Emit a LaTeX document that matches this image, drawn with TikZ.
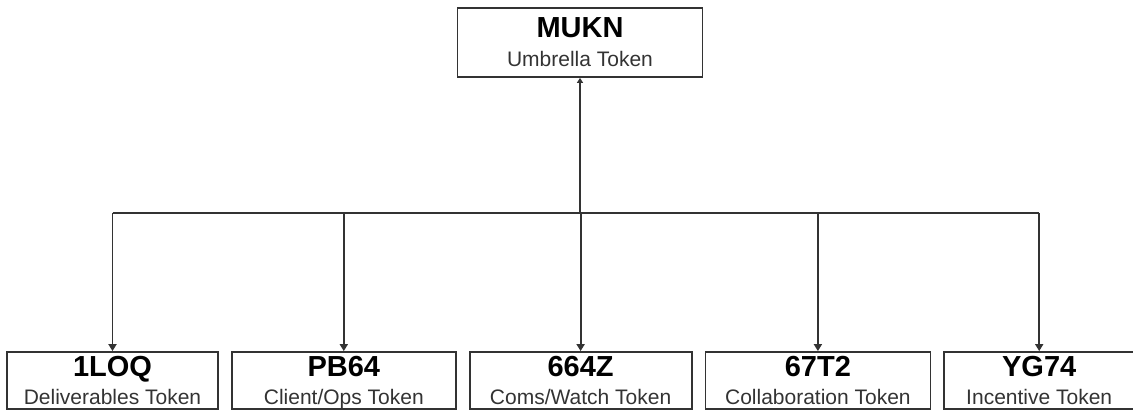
\documentclass[tikz,border=0pt]{standalone}
\usepackage{fontspec}
\setmainfont{Liberation Sans}
\definecolor{linegray}{RGB}{ 51, 51, 51}
\usetikzlibrary{chains, positioning, arrows.meta}

\newcommand{\tokentext}[2]{{\fontsize{29}{30}\selectfont\bfseries
                            \smash{#1}\vphantom{H}}\\
                           {\color{linegray}\smash{#2}\vphantom{H}}}

\begin{document}
\begin{tikzpicture}[x=1pt, y=1pt,
node distance = 12pt,
  start chain = going right,
   umb/.style = {draw=linegray, line width=1.8pt, minimum width=245pt,
                 minimum height=69pt, inner sep=0pt, align=center,
                 font=\fontsize{21}{29}\selectfont},
   tok/.style = {draw=linegray, line width=1.8pt, minimum width=#1,
                 minimum height=57pt, inner sep=0pt, align=center,
                 font=\fontsize{21}{28}\selectfont, on chain},
  link/.style = {draw=linegray, line width=1.8pt},
   arr/.style = {link, -{Triangle[width=8pt,length=7pt]}},
  arrup/.style = {link, -{Triangle[width=6pt,length=5pt]}}
                 ]
\useasboundingbox (0,0) rectangle (1133,410);

\node[umb] (mukn) at (580,367.5) {\tokentext{MUKN}{Umbrella Token}};

\node[tok=211pt, anchor=west] (loq) at (6.1,29.5)
                 {\tokentext{1LOQ}{Deliverables Token}};
\node[tok=224pt] (client) {\tokentext{PB64}{Client/Ops Token}};
\node[tok=222pt] (coms)   {\tokentext{664Z}{Coms/Watch Token}};
\node[tok=225pt] (collab) {\tokentext{67T2}{Collaboration Token}};
\node[tok=190pt] (incent) {\tokentext{YG74}{Incentive Token}};

% bus line
\coordinate (bus) at (0,197);
\draw[link] (loq.north |- bus) -- (incent.north |- bus);
\draw[arrup] (mukn.south |- bus) -- (mukn);
\foreach \tk in {loq, client, coms, collab, incent}
  \draw[arr] (\tk.north |- bus) -- (\tk);
\end{tikzpicture}
\end{document}
